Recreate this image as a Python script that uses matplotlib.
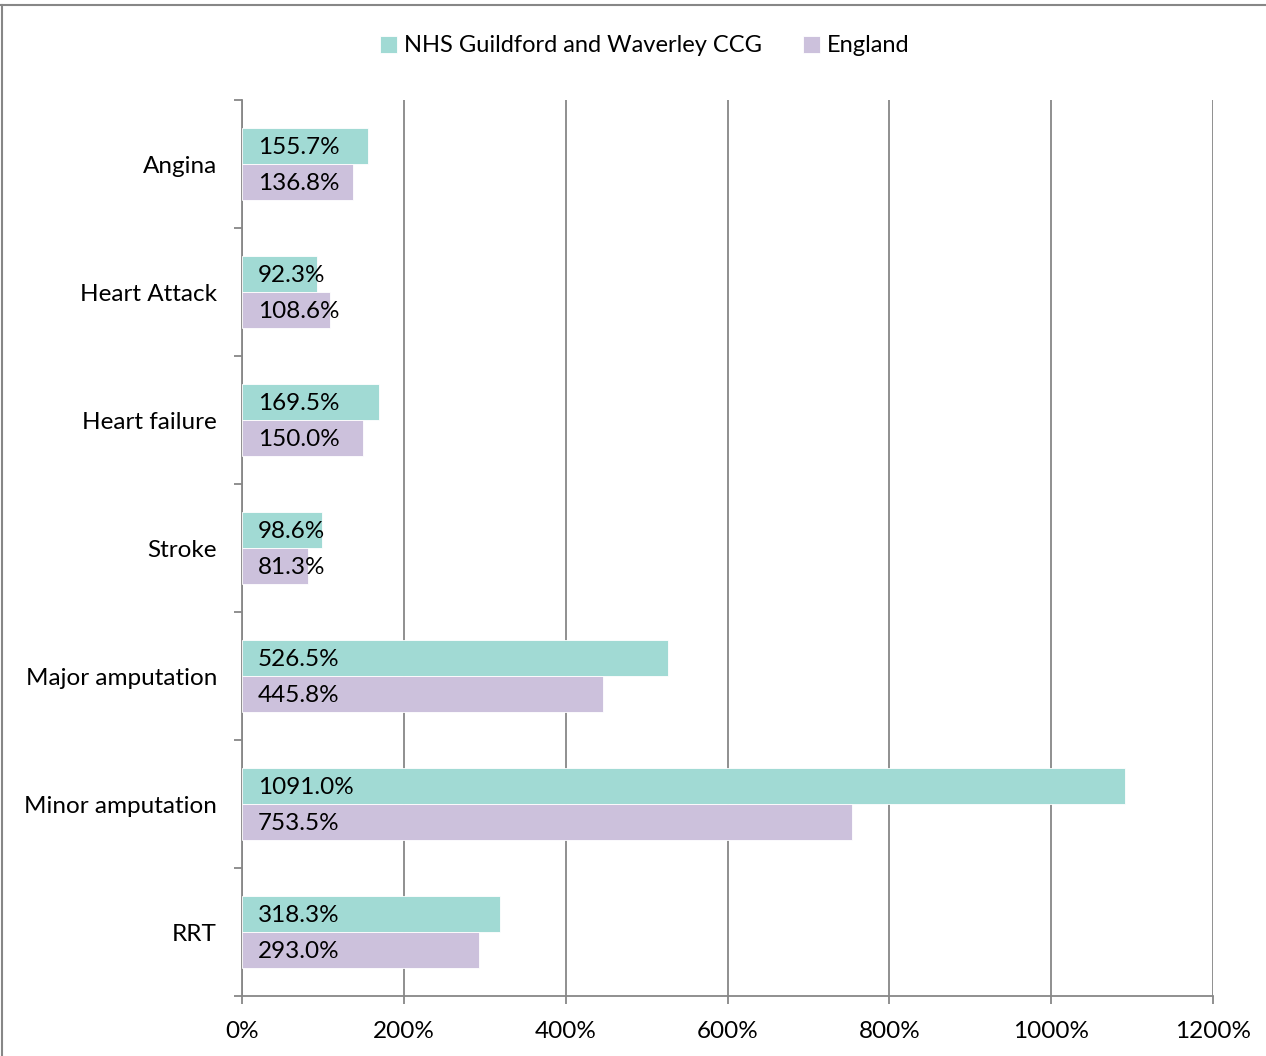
import matplotlib
matplotlib.use("Agg")
import matplotlib.pyplot as plt
from matplotlib.lines import Line2D
from matplotlib.ticker import FuncFormatter, FixedLocator

categories = ["Angina", "Heart Attack", "Heart failure", "Stroke",
              "Major amputation", "Minor amputation", "RRT"]
ccg_values = [155.7, 92.3, 169.5, 98.6, 526.5, 1091.0, 318.3]
england_values = [136.8, 108.6, 150.0, 81.3, 445.8, 753.5, 293.0]
series_names = ["NHS Guildford and Waverley CCG", "England"]
x_ticks = [0, 200, 400, 600, 800, 1000, 1200]

teal = "#a1dad4"
lilac = "#ccc1dc"
grey = "#878787"

plt.rcParams['font.family'] = ['Lato', 'DejaVu Sans']
fs = 17.5

W, H = 1266, 1056
fig = plt.figure(figsize=(W / 100, H / 100), dpi=100)
ax = fig.add_axes([242 / W, 1 - 996 / H, (1213 - 242) / W, (996 - 100) / H])

ypos = list(range(len(categories)))
h = 0.285
b1 = ax.barh([y - h / 2 for y in ypos], ccg_values, height=h, color=teal,
             edgecolor="white", linewidth=0.6, label=series_names[0], zorder=3)
b2 = ax.barh([y + h / 2 for y in ypos], england_values, height=h, color=lilac,
             edgecolor="white", linewidth=0.6, label=series_names[1], zorder=3)

for y, v in zip(ypos, ccg_values):
    ax.annotate(f"{v:.1f}%", xy=(0, y - h / 2), xytext=(11.5, -1.2),
                textcoords="offset points", ha="left", va="center",
                fontsize=fs, zorder=4)
for y, v in zip(ypos, england_values):
    ax.annotate(f"{v:.1f}%", xy=(0, y + h / 2), xytext=(11.5, -1.2),
                textcoords="offset points", ha="left", va="center",
                fontsize=fs, zorder=4)

ax.set_xlim(0, 1200)
ax.set_ylim(len(categories) - 0.5, -0.5)
ax.xaxis.set_major_locator(FixedLocator(x_ticks))
ax.xaxis.set_major_formatter(FuncFormatter(lambda v, p: f"{v:.0f}%"))
ax.grid(axis="x", color=grey, linewidth=1.3, zorder=0)

ax.set_yticks(ypos)
ax.set_yticklabels(categories)
ax.set_yticks([y - 0.5 for y in range(len(categories) + 1)], minor=True)
ax.tick_params(axis="y", which="major", length=0, pad=18, labelsize=fs)
ax.tick_params(axis="y", which="minor", length=6, width=1.3, color=grey)
ax.tick_params(axis="x", length=6, width=1.3, color=grey, pad=12, labelsize=fs)

for s in ["top", "right"]:
    ax.spines[s].set_visible(False)
for s in ["left", "bottom"]:
    ax.spines[s].set_color(grey)
    ax.spines[s].set_linewidth(1.3)

fig.legend(handles=[b1, b2], labels=series_names, loc="center",
           bbox_to_anchor=(645 / W, 1 - 46 / H), ncol=2, frameon=False,
           fontsize=17, handlelength=0.7, handleheight=0.7, handletextpad=0.3,
           columnspacing=1.75)

# outer chart frame (top and left edges visible)
fig.add_artist(Line2D([1 / W, 1], [1 - 5 / H, 1 - 5 / H], color=grey, linewidth=1.5,
                      transform=fig.transFigure))
fig.add_artist(Line2D([1.5 / W, 1.5 / W], [0, 1 - 5 / H], color=grey, linewidth=1.5,
                      transform=fig.transFigure))

fig.savefig("out.png", dpi=100)
